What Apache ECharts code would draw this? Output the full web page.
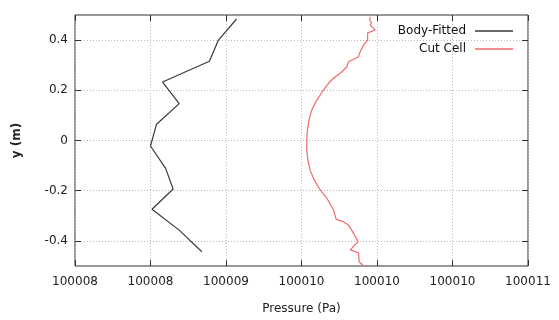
<!DOCTYPE html>
<html>
<head>
<meta charset="utf-8">
<script src="https://cdn.jsdelivr.net/npm/echarts@6/dist/echarts.min.js"></script>
<style>
  html, body { margin: 0; padding: 0; background: #fff; }
  #chart { width: 559px; height: 320px; }
</style>
</head>
<body>
<div id="chart"></div>
<script>
// pressure (Pa) vs y (m)
const bodyFitted = [
  [100009.07, 0.484], [100008.95, 0.400], [100008.89, 0.316], [100008.58, 0.233],
  [100008.69, 0.147], [100008.54, 0.065], [100008.50, -0.022], [100008.60, -0.111],
  [100008.65, -0.193], [100008.51, -0.274], [100008.69, -0.357], [100008.84, -0.443]
];

const cutCell = [
  [100009.955, 0.493], [100009.951, 0.480], [100009.964, 0.469], [100009.955, 0.460],
  [100009.989, 0.440], [100009.938, 0.429], [100009.947, 0.424], [100009.938, 0.400],
  [100009.911, 0.380], [100009.889, 0.354], [100009.878, 0.334], [100009.845, 0.324],
  [100009.811, 0.314], [100009.801, 0.294], [100009.768, 0.274], [100009.712, 0.248],
  [100009.679, 0.228], [100009.645, 0.201], [100009.602, 0.161], [100009.568, 0.122],
  [100009.550, 0.082], [100009.539, 0.042], [100009.535, 0.002], [100009.535, -0.038],
  [100009.542, -0.078], [100009.557, -0.118], [100009.584, -0.157], [100009.624, -0.197],
  [100009.668, -0.230], [100009.712, -0.277], [100009.730, -0.314], [100009.768, -0.321],
  [100009.811, -0.337], [100009.845, -0.370], [100009.874, -0.403], [100009.823, -0.436],
  [100009.878, -0.447], [100009.882, -0.483], [100009.911, -0.500]
];

const xTickLabels = ['100008', '100008', '100009', '100010', '100010', '100010', '100011'];
const yTicks = [-0.4, -0.2, 0, 0.2, 0.4];

const xMin = 100008, xMax = 100011, xStep = 0.5;

let myChart = echarts.init(document.getElementById('chart'));

const font = 'DejaVu Sans';
const gridLine = { show: true, lineStyle: { color: '#b8b8b8', type: [1, 2], width: 1 } };
const tick = { show: true, inside: true, length: 6, lineStyle: { color: '#333' } };
const noLine = { show: false, onZero: false };

let option = {
  animation: false,
  textStyle: { fontFamily: font },
  grid: {
    left: 75, right: 31, top: 15, bottom: 54,
    show: true, borderColor: '#333', borderWidth: 1
  },
  legend: {
    orient: 'vertical',
    right: 41, top: 20,
    align: 'right',
    icon: 'rect',
    itemWidth: 38, itemHeight: 1.3,
    itemGap: 6,
    textStyle: { fontFamily: font, fontSize: 12, color: '#111', padding: [0, 4, 0, 0] },
    data: ['Body-Fitted', 'Cut Cell']
  },
  xAxis: [{
    type: 'value',
    min: xMin, max: xMax, interval: xStep,
    name: 'Pressure (Pa)',
    nameLocation: 'middle', nameGap: 37,
    nameTextStyle: { fontFamily: font, fontSize: 12, color: '#222' },
    axisLine: noLine,
    axisTick: tick,
    splitLine: gridLine,
    axisLabel: {
      margin: 10, fontFamily: font, fontSize: 12, color: '#222',
      formatter: function (v) { return xTickLabels[Math.round((v - xMin) / xStep)]; }
    }
  }, {
    type: 'value', position: 'top',
    min: xMin, max: xMax, interval: xStep,
    axisLine: noLine, axisTick: tick,
    axisLabel: { show: false }, splitLine: { show: false }
  }],
  yAxis: [{
    type: 'value',
    min: -0.5, max: 0.5,
    name: 'y (m)',
    nameLocation: 'middle', nameGap: 52,
    nameTextStyle: { fontFamily: font, fontSize: 12, color: '#222', fontWeight: 'bold' },
    axisLine: noLine,
    axisTick: Object.assign({ customValues: yTicks }, tick),
    splitLine: gridLine,
    axisLabel: {
      customValues: yTicks,
      margin: 7, fontFamily: font, fontSize: 12, color: '#222',
      formatter: function (v) { return String(Math.round(v * 10) / 10); }
    }
  }, {
    type: 'value', position: 'right',
    min: -0.5, max: 0.5,
    axisLine: noLine,
    axisTick: Object.assign({ customValues: yTicks }, tick),
    axisLabel: { show: false }, splitLine: { show: false }
  }],
  series: [{
    name: 'Body-Fitted',
    type: 'line',
    data: bodyFitted,
    showSymbol: false, symbol: 'none',
    color: '#3a3a3a',
    lineStyle: { color: '#3a3a3a', width: 1.2 }
  }, {
    name: 'Cut Cell',
    type: 'line',
    data: cutCell,
    showSymbol: false, symbol: 'none',
    color: '#f06a6a',
    lineStyle: { color: '#f06a6a', width: 1.2 }
  }]
};

myChart.setOption(option);
</script>
</body>
</html>
